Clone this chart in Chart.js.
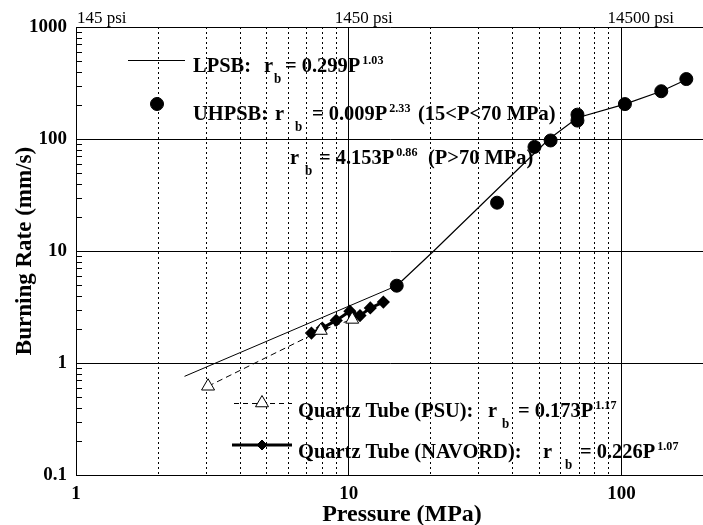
<!DOCTYPE html>
<html>
<head>
<meta charset="utf-8">
<script src="https://cdn.jsdelivr.net/npm/chart.js@4.4.1/dist/chart.umd.min.js"></script>
<style>
  html, body { margin: 0; padding: 0; background: #fff; overflow: hidden; }
  #wrap { width: 703px; height: 525px; overflow: hidden; }
  canvas { display: block; }
</style>
</head>
<body>
<div id="wrap"><canvas id="chart" width="712" height="525" style="width:712px;height:525px"></canvas></div>
<script>
// fitted lines (pressure MPa, burning rate mm/s)
const lpsbP = [2.5, 15];
const lpsbR = [0.76, 4.9];
const uhpsbFitP = [15, 20.5, 54.3, 69, 103, 140, 175];
const uhpsbFitR = [4.9, 10, 100, 155, 205, 267, 343];

// measured points
const uhpsbP = [15, 35, 48, 55, 69, 69, 103, 140, 173];
const uhpsbR = [4.9, 27, 85, 97, 165, 146, 205, 267, 343];
const psuP = [3.05, 7.9, 10.3];
const psuR = [0.62, 1.95, 2.45];
const navordP = [7.3, 8.0, 9.0, 10.1, 11.0, 12.0, 13.4];
const navordR = [1.85, 2.05, 2.4, 2.9, 2.65, 3.1, 3.5];

// axes
const xTickValues = [1, 2, 3, 4, 5, 6, 7, 8, 9, 10, 20, 30, 40, 50, 60, 70, 80, 90, 100];
const xLabelValues = [1, 10, 100];
const xLabelText = ['1', '10', '100'];
const psiValues = [1, 10, 100];
const psiLabels = ['145 psi', '1450 psi', '14500 psi'];
const yTickValues = [0.1, 1, 10, 100, 1000];
const yTickLabels = ['0.1', '1', '10', '100', '1000'];

const SERIF = "'Liberation Serif', 'Times New Roman', serif";
Chart.defaults.font.family = SERIF;
Chart.defaults.color = '#000';

const pts = (xs, ys) => xs.map((x, i) => ({ x, y: ys[i] }));

// legend text, drawn by hand like the original figure
const legendLines = [
  { y: 72, parts: [['LPSB:', 'n', 193], ['r', 'n', 264], ['b', 'sub', 274], ['= 0.299P', 'n', 285], ['1.03', 'sup']] },
  { y: 120, parts: [['UHPSB:', 'n', 193], ['r', 'n', 275], ['b', 'sub', 295], ['= 0.009P', 'n', 312], ['2.33', 'sup'], ['(15<P<70 MPa)', 'n', 418]] },
  { y: 164, parts: [['r', 'n', 290], ['b', 'sub', 305], ['= 4.153P', 'n', 319], ['0.86', 'sup'], ['(P>70 MPa)', 'n', 428]] },
  { y: 417, parts: [['Quartz Tube (PSU):', 'n', 298], ['r', 'n', 488], ['b', 'sub', 502], ['= 0.173P', 'n', 518], ['1.17', 'sup']] },
  { y: 458, parts: [['Quartz Tube (NAVORD):', 'n', 298], ['r', 'n', 543], ['b', 'sub', 565], ['= 0.226P', 'n', 580], ['1.07', 'sup']] },
];

function drawRich(ctx, baseline, parts) {
  const sx = 0.93;
  let cursor = 0;
  parts.forEach(([text, kind, at]) => {
    if (at != null) cursor = at;
    if (kind === 'sup') cursor += 2;
    const size = kind === 'sup' ? 13 : kind === 'sub' ? 14 : 22;
    const dy = kind === 'sup' ? -8 : kind === 'sub' ? 11 : 0;
    ctx.font = `bold ${size}px ${SERIF}`;
    ctx.save();
    ctx.translate(cursor, baseline + dy);
    ctx.scale(sx, 1);
    ctx.fillText(text, 0, 0);
    ctx.restore();
    cursor += ctx.measureText(text).width * sx;
  });
}

function marker(ctx, style, radius, x, y, fill) {
  ctx.fillStyle = fill;
  ctx.strokeStyle = '#000';
  ctx.lineWidth = 1;
  Chart.helpers.drawPoint(ctx, { pointStyle: style, radius, borderWidth: 1, rotation: 0 }, x, y);
}

const figurePlugin = {
  id: 'figureText',
  afterDraw(chart) {
    const { ctx, chartArea, scales } = chart;
    ctx.save();
    ctx.strokeStyle = '#000';
    ctx.fillStyle = '#000';
    ctx.lineWidth = 1;

    // small inside ticks on the rate axis
    for (let d = 0.1; d < 1000; d *= 10) {
      for (let m = 2; m <= 9; m++) {
        const py = Math.round(scales.y.getPixelForValue(d * m)) + 0.5;
        ctx.beginPath();
        ctx.moveTo(chartArea.left, py);
        ctx.lineTo(chartArea.left + 6, py);
        ctx.stroke();
      }
    }

    // psi labels on top
    ctx.font = `17px ${SERIF}`;
    ctx.textAlign = 'left';
    ctx.textBaseline = 'alphabetic';
    psiValues.forEach((v, i) => {
      const px = Math.max(chartArea.left + 1, scales.x.getPixelForValue(v) - 14);
      ctx.fillText(psiLabels[i], px, 23);
    });

    // x title
    ctx.font = `bold 24px ${SERIF}`;
    ctx.textAlign = 'center';
    ctx.fillText('Pressure (MPa)', 402, 521);

    // legend symbols
    ctx.beginPath();
    ctx.moveTo(128, 60.5);
    ctx.lineTo(185, 60.5);
    ctx.stroke();
    marker(ctx, 'circle', 6.5, 157, 104, '#000');

    ctx.setLineDash([5, 4]);
    ctx.beginPath();
    ctx.moveTo(234, 403.5);
    ctx.lineTo(292, 403.5);
    ctx.stroke();
    ctx.setLineDash([]);
    marker(ctx, 'triangle', 7.5, 262, 403, '#fff');

    ctx.lineWidth = 3;
    ctx.beginPath();
    ctx.moveTo(232, 445);
    ctx.lineTo(292, 445);
    ctx.stroke();
    marker(ctx, 'rectRot', 5, 262, 445, '#000');

    // legend text
    ctx.fillStyle = '#000';
    ctx.textAlign = 'left';
    legendLines.forEach((line) => drawRich(ctx, line.y, line.parts));
    ctx.restore();
  },
};

const dotted = (ctx) => (ctx.tick && !xLabelValues.includes(ctx.tick.value) ? [2, 3] : []);

new Chart(document.getElementById('chart'), {
  type: 'scatter',
  data: {
    datasets: [
      {
        label: 'Quartz Tube (PSU)',
        data: pts(psuP, psuR),
        showLine: true,
        borderColor: '#000',
        borderWidth: 1,
        borderDash: [6, 4],
        pointStyle: 'triangle',
        pointRadius: 7.5,
        pointBackgroundColor: '#fff',
        pointBorderColor: '#000',
        pointBorderWidth: 1,
      },
      {
        label: 'LPSB fit',
        data: pts(lpsbP, lpsbR),
        showLine: true,
        borderColor: '#000',
        borderWidth: 1,
        pointRadius: 0,
      },
      {
        label: 'UHPSB fit',
        data: pts(uhpsbFitP, uhpsbFitR),
        showLine: true,
        borderColor: '#000',
        borderWidth: 1.2,
        pointRadius: 0,
      },
      {
        label: 'UHPSB',
        data: pts(uhpsbP, uhpsbR),
        showLine: false,
        pointStyle: 'circle',
        pointRadius: 6.5,
        backgroundColor: '#000',
        borderColor: '#000',
      },
      {
        label: 'Quartz Tube (NAVORD)',
        data: pts(navordP, navordR),
        showLine: true,
        borderColor: '#000',
        borderWidth: 3,
        pointStyle: 'rectRot',
        pointRadius: 4.5,
        pointBackgroundColor: '#000',
        pointBorderColor: '#000',
      },
    ],
  },
  options: {
    responsive: false,
    animation: false,
    devicePixelRatio: 1,
    layout: { padding: { top: 27, right: 3, bottom: 0, left: 0 } },
    plugins: { legend: { display: false }, tooltip: { enabled: false } },
    scales: {
      x: {
        type: 'logarithmic',
        position: 'bottom',
        min: 1,
        max: 200,
        afterBuildTicks: (scale) => { scale.ticks = xTickValues.map((value) => ({ value })); },
        afterFit: (scale) => { scale.height = 50; },
        ticks: {
          autoSkip: false,
          maxRotation: 0,
          padding: 8,
          color: '#000',
          font: { size: 19, weight: 'bold' },
          callback: (value) => {
            const i = xLabelValues.indexOf(value);
            return i >= 0 ? xLabelText[i] : '';
          },
        },
        grid: { color: '#000', lineWidth: 1, drawTicks: false },
        border: { display: true, color: '#000', width: 1, dash: dotted },
      },
      y: {
        type: 'logarithmic',
        min: 0.1,
        max: 1000,
        afterBuildTicks: (scale) => { scale.ticks = yTickValues.map((value) => ({ value })); },
        afterFit: (scale) => { scale.width = 76; },
        ticks: {
          padding: 9,
          color: '#000',
          font: { size: 19, weight: 'bold' },
          callback: (value, index) => yTickLabels[index],
        },
        grid: { color: '#000', lineWidth: 1, drawTicks: false },
        border: { display: true, color: '#000', width: 1 },
        title: {
          display: true,
          text: 'Burning Rate (mm/s)',
          color: '#000',
          font: { size: 23, weight: 'bold' },
          padding: { top: 11, bottom: 0 },
        },
      },
    },
  },
  plugins: [figurePlugin],
});
</script>
</body>
</html>
